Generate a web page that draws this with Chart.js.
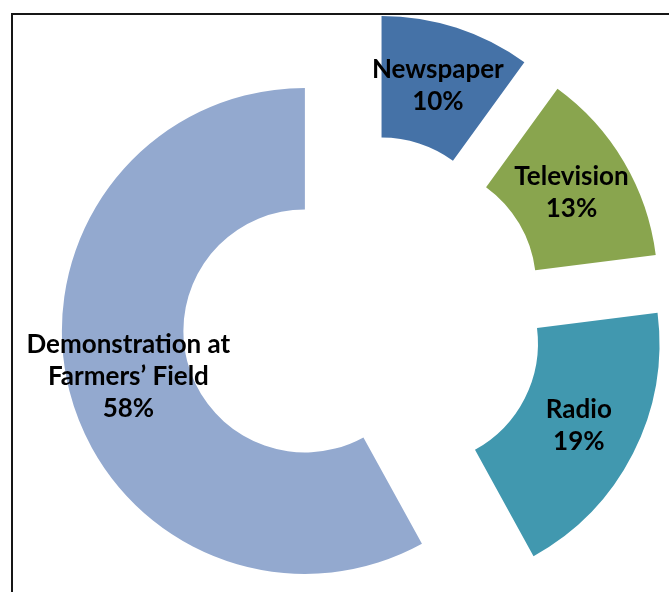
<!DOCTYPE html>
<html>
<head>
<meta charset="utf-8">
<script src="https://cdn.jsdelivr.net/npm/chart.js@4/dist/chart.umd.min.js"></script>
<style>
  html, body { margin: 0; padding: 0; background: #fff; overflow: hidden; }
  #wrap { position: relative; width: 669px; height: 592px; }
  #chart { position: absolute; left: 0; top: 0; }
  #frame {
    position: absolute; left: 11px; top: 13px; right: -20px; bottom: -20px;
    border: 2px solid #161616; pointer-events: none;
  }
</style>
</head>
<body>
<div id="wrap">
  <canvas id="chart" width="669" height="592"></canvas>
  <div id="frame"></div>
</div>
<script>
const sources = ['Newspaper', 'Television', 'Radio', 'Demonstration at\nFarmers\u2019 Field'];
const shares = [10, 13, 19, 58];
const sliceColors = ['#4572A7', '#89A54E', '#4198AF', '#93A9CF'];

// every slice is pulled out from the middle by this many pixels
const explode = 60;

const explodeSlices = {
  id: 'explodeSlices',
  afterDatasetUpdate(chart, args) {
    args.meta.data.forEach(arc => {
      const mid = (arc.startAngle + arc.endAngle) / 2;
      arc.x += Math.cos(mid) * explode;
      arc.y += Math.sin(mid) * explode;
    });
  }
};

const sliceLabels = {
  id: 'sliceLabels',
  afterDatasetsDraw(chart) {
    const ctx = chart.ctx;
    const meta = chart.getDatasetMeta(0);
    ctx.save();
    ctx.font = 'bold 26px Lato';
    ctx.fillStyle = '#000';
    ctx.textAlign = 'center';
    ctx.textBaseline = 'middle';
    const lineH = 32;
    meta.data.forEach((arc, i) => {
      const pos = arc.tooltipPosition();
      const lines = sources[i].split('\n').concat(shares[i] + '%');
      const top = pos.y - (lines.length - 1) * lineH / 2;
      lines.forEach((line, k) => ctx.fillText(line, pos.x, top + k * lineH));
    });
    ctx.restore();
  }
};

const ctx = document.getElementById('chart').getContext('2d');
new Chart(ctx, {
  type: 'doughnut',
  data: {
    labels: sources,
    datasets: [{
      data: shares,
      backgroundColor: sliceColors,
      borderWidth: 0
    }]
  },
  options: {
    responsive: false,
    animation: false,
    events: [],
    radius: 243,
    cutout: '50%',
    layout: {
      padding: { left: 57, right: 0, top: 40, bottom: 0 }
    },
    plugins: {
      legend: { display: false },
      tooltip: { enabled: false }
    }
  },
  plugins: [explodeSlices, sliceLabels]
});
</script>
</body>
</html>
